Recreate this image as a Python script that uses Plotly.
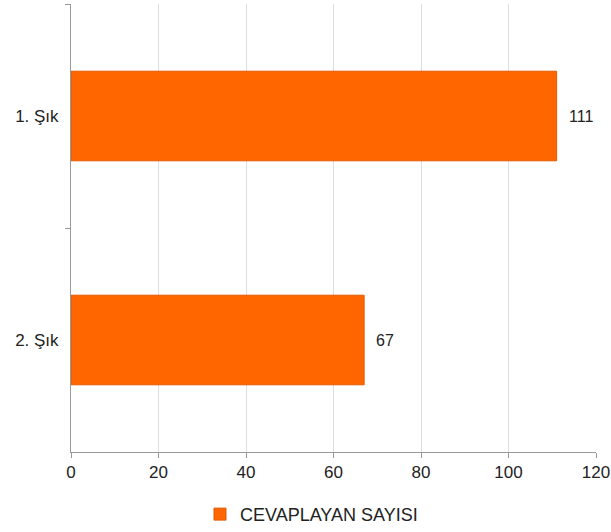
import plotly.graph_objects as go

categories = ["1. Şık", "2. Şık"]
values = [111, 67]
series_name = "CEVAPLAYAN SAYISI"
x_ticks = [0, 20, 40, 60, 80, 100, 120]

FONT = "Liberation Sans, Arial, sans-serif"

fig = go.Figure()
fig.add_trace(go.Bar(
    y=categories, x=values, orientation="h", name=series_name,
    marker=dict(color="#FF6600", line=dict(color="#E05C00", width=1)),
    width=0.4, showlegend=True,
))
for c, v in zip(categories, values):
    fig.add_annotation(x=v, y=c, text=str(v), showarrow=False, xanchor="left",
                       xshift=10, font=dict(family=FONT, size=16, color="#222"))

fig.update_layout(
    width=611, height=532,
    margin=dict(l=71, r=15, t=4, b=80, autoexpand=False),
    paper_bgcolor="white", plot_bgcolor="white",
    font=dict(family=FONT, size=18, color="#222"),
    bargap=0.6,
    xaxis=dict(range=[0, 120], tickvals=x_ticks, showgrid=True, gridcolor="#DDDDDD",
               gridwidth=1, zeroline=False, showline=True, linecolor="#999999", linewidth=1,
               ticks="outside", ticklen=5, tickcolor="#999999", automargin=False,
               ticklabeloverflow="allow", tickfont=dict(size=17, color="#222")),
    yaxis=dict(categoryorder="array", categoryarray=categories, autorange="reversed",
               showgrid=False, zeroline=False, showline=True, linecolor="#999999", linewidth=1,
               ticks="outside", ticklen=5, tickcolor="#999999", tickson="boundaries",
               ticklabelstandoff=8, automargin=False, tickfont=dict(size=17, color="#222")),
    legend=dict(orientation="h", x=0.2457, xanchor="left", y=-0.098, yanchor="top",
                font=dict(family=FONT, size=18, color="#222"), itemwidth=30),
)

fig.write_html("out.html", config={"displayModeBar": False},
               post_script="document.body.style.margin='0';document.body.style.overflow='hidden';")
